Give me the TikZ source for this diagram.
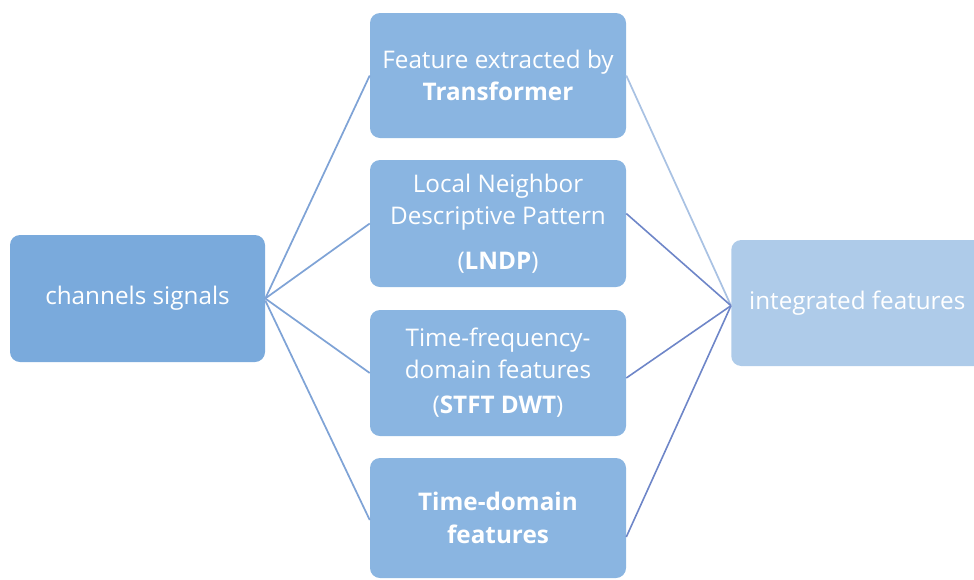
\documentclass[tikz,border=0pt]{standalone}
\usepackage{fontspec}
\setmainfont{Open Sans}
\definecolor{leftbox}{HTML}{7AAADC}
\definecolor{midbox}{HTML}{8AB5E1}
\definecolor{rightbox}{HTML}{AECBE9}
\definecolor{leftline}{HTML}{7FA3D6}
\definecolor{rightlinelight}{HTML}{A9C2E3}
\definecolor{rightline}{HTML}{6E86C8}
\begin{document}
\begin{tikzpicture}[x=0.75pt,y=-0.75pt,
  box/.style={rounded corners=7.5pt, inner sep=0pt, align=center, text=white,
    font=\fontsize{18.2pt}{24pt}\selectfont},
  lconn/.style={draw=leftline, line width=1.3pt},
  rconn/.style={draw=rightline, line width=1.2pt},
  rconnl/.style={draw=rightlinelight, line width=1.3pt}]
\useasboundingbox (0,0) rectangle (974,579);
\node[box, fill=leftbox, minimum width=191.25pt, minimum height=95.25pt] (src) at (137.5,298.5) {channels signals};
\node[box, fill=midbox, minimum width=192pt, minimum height=93.75pt] (m1) at (498,75.5) {Feature extracted by\\\textbf{Transformer}};
\node[box, fill=midbox, minimum width=192pt, minimum height=95.25pt] (m2) at (498,223.5) {Local Neighbor\\Descriptive Pattern\\[9.75pt](\textbf{LNDP})};
\node[box, fill=midbox, minimum width=192pt, minimum height=94.5pt] (m3) at (498,373) {Time-frequency-\\domain features\\[2.25pt](\textbf{STFT DWT})};
\node[box, fill=midbox, minimum width=192pt, minimum height=90pt] (m4) at (498,518) {\textbf{Time-domain}\\[0.75pt]\textbf{features}};
\node[box, fill=rightbox, minimum width=195pt, minimum height=94.5pt, anchor=west] (out) at (731,303) {\hspace*{-3pt}integrated features\hspace*{3pt}};
\draw[lconn] (src.east) -- (m1.west);
\draw[lconn] (src.east) -- (m2.west);
\draw[lconn] (src.east) -- (m3.west);
\draw[lconn] ([yshift=-1.5pt]src.east) -- ([yshift=-1.5pt]m4.west);
\draw[rconnl] (m1.east) -- ([yshift=-2pt]out.west);
\draw[rconn] ([yshift=7.5pt]m2.east) -- ([yshift=-2pt]out.west);
\draw[rconn] ([yshift=-3.75pt]m3.east) -- ([yshift=-2pt]out.west);
\draw[rconn] ([yshift=-14.25pt]m4.east) -- ([yshift=-2pt]out.west);
\end{tikzpicture}
\end{document}
